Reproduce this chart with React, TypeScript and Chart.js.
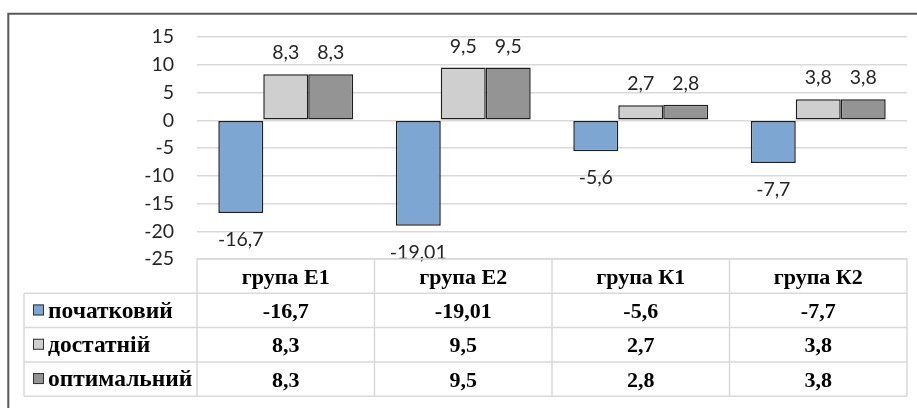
import React, { useEffect, useRef } from 'react';
import { Chart, registerables } from 'chart.js';

Chart.register(...registerables);

// ---- data ----
const categories = ['група Е1', 'група Е2', 'група К1', 'група К2'];
const seriesNames = ['початковий', 'достатній', 'оптимальний'];
const initialValues = [-16.7, -19.01, -5.6, -7.7];
const sufficientValues = [8.3, 9.5, 2.7, 3.8];
const optimalValues = [8.3, 9.5, 2.8, 3.8];
const yMin = -25;
const yMax = 15;
const yStep = 5;

// ---- styles ----
const seriesColors = ['#7ea6d3', '#cfcfcf', '#949494'];
const labelFont = 'Lato, "Open Sans", sans-serif';
const tableFont = '"Liberation Serif", "Times New Roman", serif';

const fmt = (v: number) => String(v).replace('.', ',');

const valueLabelsPlugin = {
  id: 'valueLabels',
  afterDatasetsDraw(chart: any) {
    const { ctx } = chart;
    ctx.save();
    ctx.font = `19.5px ${labelFont}`;
    ctx.fillStyle = '#262626';
    ctx.textAlign = 'center';
    ctx.textBaseline = 'alphabetic';
    chart.data.datasets.forEach((ds: any, di: number) => {
      const meta = chart.getDatasetMeta(di);
      meta.data.forEach((bar: any, i: number) => {
        const v = ds.data[i];
        const txt = fmt(v);
        if (v >= 0) {
          ctx.fillText(txt, bar.x, bar.y - 15);
        } else {
          ctx.fillText(txt, bar.x, bar.y + 33);
        }
      });
    });
    ctx.restore();
  },
};

const tablePlugin = {
  id: 'dataTable',
  afterDraw(chart: any) {
    const { ctx, chartArea } = chart;
    const left = chartArea.left;
    const right = chartArea.right;
    const top = chartArea.bottom;
    const n = categories.length;
    const colW = (right - left) / n;
    const rowH = 34.3;
    const legendLeft = 24;
    const rows = [initialValues, sufficientValues, optimalValues];

    ctx.save();
    ctx.strokeStyle = '#d9d9d9';
    ctx.lineWidth = 1.5;
    ctx.beginPath();
    ctx.moveTo(left, top);
    ctx.lineTo(right, top);
    for (let r = 1; r <= 4; r++) {
      const y = top + r * rowH;
      ctx.moveTo(legendLeft, y);
      ctx.lineTo(right, y);
    }
    ctx.moveTo(legendLeft, top + rowH);
    ctx.lineTo(legendLeft, top + 4 * rowH);
    for (let c = 0; c <= n; c++) {
      const x = left + c * colW;
      ctx.moveTo(x, top);
      ctx.lineTo(x, top + 4 * rowH);
    }
    ctx.stroke();

    ctx.fillStyle = '#000000';
    ctx.textBaseline = 'middle';
    ctx.textAlign = 'center';
    ctx.font = `bold 22px ${tableFont}`;
    categories.forEach((c, i) => {
      ctx.fillText(c, left + (i + 0.5) * colW, top + rowH / 2 + 2);
    });
    rows.forEach((vals, r) => {
      const cy = top + (r + 1.5) * rowH + 2;
      vals.forEach((v, i) => {
        ctx.fillText(fmt(v), left + (i + 0.5) * colW, cy);
      });
    });

    // legend column
    ctx.textAlign = 'left';
    ctx.font = `bold 23.5px ${tableFont}`;
    seriesNames.forEach((name, r) => {
      const cy = top + (r + 1.5) * rowH;
      ctx.fillStyle = seriesColors[r];
      ctx.fillRect(33, cy - 6, 11, 11);
      ctx.strokeStyle = '#333333';
      ctx.lineWidth = 1;
      ctx.strokeRect(33.5, cy - 5.5, 10, 10);
      ctx.fillStyle = '#000000';
      ctx.fillText(name, 48, cy + 1);
    });

    // outer frame (top and left visible)
    ctx.strokeStyle = '#595959';
    ctx.lineWidth = 2;
    ctx.beginPath();
    ctx.moveTo(8.3, 420);
    ctx.lineTo(8.3, 13.8);
    ctx.lineTo(930, 13.8);
    ctx.stroke();
    ctx.restore();
  },
};

export default function App() {
  const ref = useRef<HTMLCanvasElement | null>(null);

  useEffect(() => {
    if (!ref.current) return;
    const chart = new Chart(ref.current, {
      type: 'bar',
      data: {
        labels: categories,
        datasets: [
          { label: seriesNames[0], data: initialValues, backgroundColor: seriesColors[0] },
          { label: seriesNames[1], data: sufficientValues, backgroundColor: seriesColors[1] },
          { label: seriesNames[2], data: optimalValues, backgroundColor: seriesColors[2] },
        ].map((d) => ({
          ...d,
          borderColor: '#1e1e1e',
          borderWidth: 1.5,
          borderSkipped: false,
          categoryPercentage: 0.76,
          barPercentage: 1,
        })),
      },
      options: {
        responsive: false,
        animation: false,
        devicePixelRatio: 1,
        layout: { padding: { left: 0, right: 10, top: 37, bottom: 149 } },
        plugins: {
          legend: { display: false },
          tooltip: { enabled: false },
          title: { display: false },
        },
        scales: {
          x: { display: false },
          y: {
            min: yMin,
            max: yMax,
            ticks: {
              stepSize: yStep,
              padding: 23,
              color: '#262626',
              font: { family: labelFont, size: 19.5 },
            },
            grid: { color: '#d9d9d9', lineWidth: 1.5, drawTicks: false },
            border: { display: false },
            afterFit: (scale: any) => {
              scale.width = 197;
            },
          },
        },
      },
      plugins: [valueLabelsPlugin, tablePlugin],
    });
    return () => chart.destroy();
  }, []);

  return (
    <div style={{ position: 'fixed', left: 0, top: 0, width: 917, height: 408, background: '#fff' }}>
      <canvas ref={ref} width={917} height={408} style={{ display: 'block', width: 917, height: 408 }} />
    </div>
  );
}
